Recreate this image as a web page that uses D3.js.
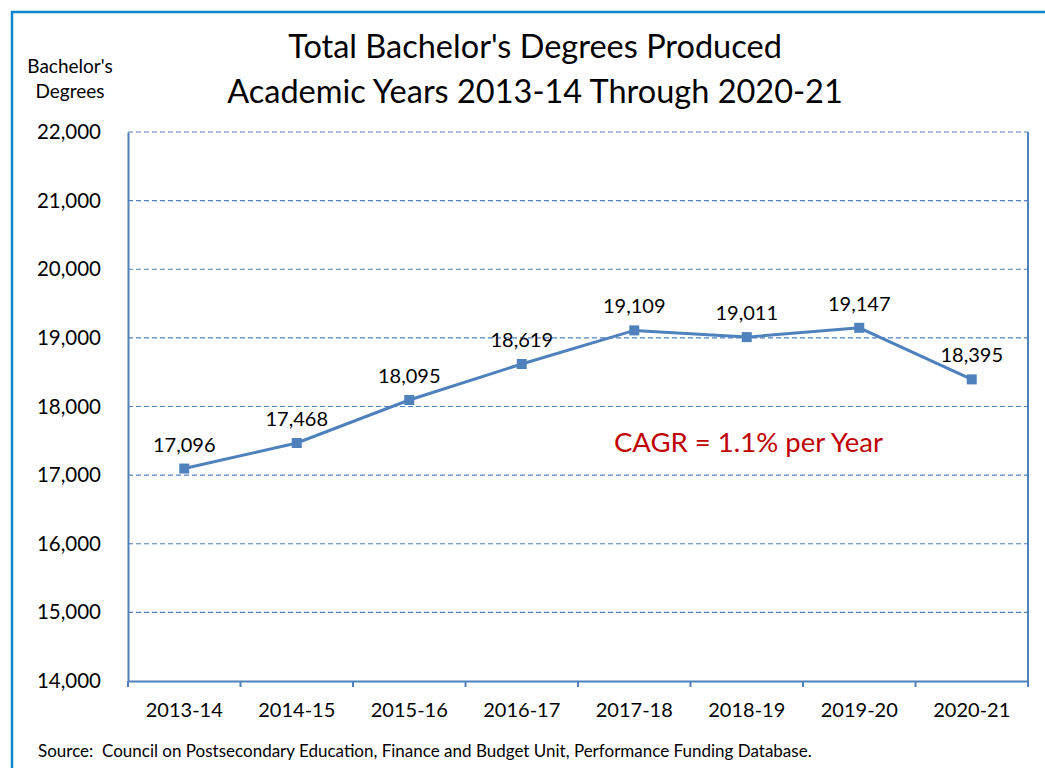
<!DOCTYPE html>
<html>
<head>
<meta charset="utf-8">
<script src="https://cdn.jsdelivr.net/npm/d3@7"></script>
<style>
  body { margin: 0; background: #fff; }
  svg text { font-family: Lato, "Open Sans", sans-serif; fill: #000; }
</style>
</head>
<body>
<div id="chart"></div>
<script>
const years = ['2013-14', '2014-15', '2015-16', '2016-17', '2017-18', '2018-19', '2019-20', '2020-21'];
const degrees = [17096, 17468, 18095, 18619, 19109, 19011, 19147, 18395];
const yTicks = [14000, 15000, 16000, 17000, 18000, 19000, 20000, 21000, 22000];
const titleLines = ["Total Bachelor's Degrees Produced", 'Academic Years 2013-14 Through 2020-21'];
const yTitleLines = ["Bachelor's", 'Degrees'];
const note = 'CAGR = 1.1% per Year';
const source = 'Source:  Council on Postsecondary Education, Finance and Budget Unit, Performance Funding Database.';

const W = 1045, H = 768;
const margin = { top: 132, right: 17, bottom: 87, left: 128 };
const width = W - margin.left - margin.right;   // 900
const height = H - margin.top - margin.bottom;  // 549
const lineColor = '#4f81bd';

const svg = d3.select('#chart').append('svg')
  .attr('width', W)
  .attr('height', H);

// outer chart border
svg.append('rect')
  .attr('x', 12).attr('y', 12)
  .attr('width', W + 20).attr('height', H + 20)
  .attr('fill', 'none')
  .attr('stroke', '#0b88d0')
  .attr('stroke-width', 2.5);

const g = svg.append('g').attr('transform', `translate(${margin.left},${margin.top})`);

const x = d3.scaleBand().domain(years).range([0, width]);
const y = d3.scaleLinear().domain([14000, 22000]).range([height, 0]);

// dashed grid lines
g.selectAll('.grid')
  .data(yTicks.slice(1))
  .enter().append('line')
  .attr('class', 'grid')
  .attr('x1', 0).attr('x2', width)
  .attr('y1', d => y(d)).attr('y2', d => y(d))
  .attr('stroke', '#4f81bd')
  .attr('stroke-width', 1.2)
  .attr('stroke-dasharray', '5,3');

// right border of plot area
g.append('line')
  .attr('x1', width).attr('x2', width)
  .attr('y1', 0).attr('y2', height)
  .attr('stroke', '#4f81bd').attr('stroke-width', 2);

// y axis
const yAxis = g.append('g')
  .call(d3.axisLeft(y).tickValues(yTicks).tickFormat(d3.format(',')).tickSize(0).tickPadding(27));
yAxis.select('.domain').attr('stroke', '#4f81bd').attr('stroke-width', 2);
yAxis.selectAll('text').style('font-size', '20.5px').attr('fill', '#000');

// x axis with ticks at category boundaries
const xAxis = g.append('g')
  .attr('transform', `translate(0,${height})`)
  .call(d3.axisBottom(x).tickSize(0).tickPadding(22));
xAxis.select('.domain').attr('stroke', '#4f81bd').attr('stroke-width', 2);
xAxis.selectAll('text').style('font-size', '20px').attr('fill', '#000');

g.selectAll('.xtick')
  .data(years.concat(['end']))
  .enter().append('line')
  .attr('class', 'xtick')
  .attr('x1', (d, i) => i * x.step()).attr('x2', (d, i) => i * x.step())
  .attr('y1', height).attr('y2', height + 6)
  .attr('stroke', '#4f81bd').attr('stroke-width', 2);

// series line
const line = d3.line()
  .x((d, i) => x(years[i]) + x.bandwidth() / 2)
  .y(d => y(d));

g.append('path')
  .datum(degrees)
  .attr('fill', 'none')
  .attr('stroke', lineColor)
  .attr('stroke-width', 3)
  .attr('d', line);

g.selectAll('.pt')
  .data(degrees)
  .enter().append('rect')
  .attr('class', 'pt')
  .attr('x', (d, i) => x(years[i]) + x.bandwidth() / 2 - 5)
  .attr('y', d => y(d) - 5)
  .attr('width', 10).attr('height', 10)
  .attr('fill', lineColor);

// data labels
g.selectAll('.lbl')
  .data(degrees)
  .enter().append('text')
  .attr('class', 'lbl')
  .attr('x', (d, i) => x(years[i]) + x.bandwidth() / 2)
  .attr('y', d => y(d) - 17)
  .attr('text-anchor', 'middle')
  .style('font-size', '20px')
  .text(d => d3.format(',')(d));

// CAGR note
svg.append('text')
  .attr('x', 614).attr('y', 452)
  .style('font-size', '27.5px')
  .style('fill', '#c00000')
  .text(note);

// titles
svg.selectAll('.title')
  .data(titleLines)
  .enter().append('text')
  .attr('class', 'title')
  .attr('x', 535)
  .attr('y', (d, i) => 58 + i * 45)
  .attr('text-anchor', 'middle')
  .style('font-size', '32.5px')
  .text(d => d);

svg.selectAll('.ytitle')
  .data(yTitleLines)
  .enter().append('text')
  .attr('class', 'ytitle')
  .attr('x', 70)
  .attr('y', (d, i) => 73 + i * 25)
  .attr('text-anchor', 'middle')
  .style('font-size', '19px')
  .text(d => d);

svg.append('text')
  .attr('x', 38).attr('y', 757)
  .style('font-size', '17px')
  .style('white-space', 'pre')
  .text(source);
</script>
</body>
</html>
